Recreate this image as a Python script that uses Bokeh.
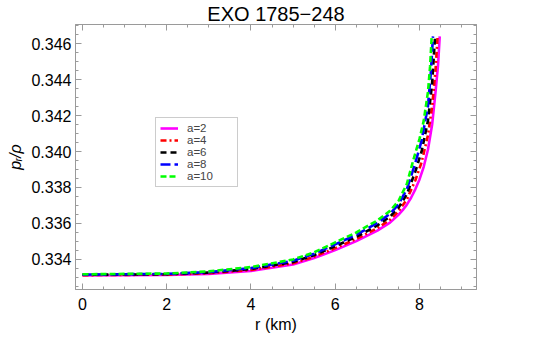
from bokeh.plotting import figure
from bokeh.models import (Range1d, LinearAxis, SingleIntervalTicker, NumeralTickFormatter,
                          CustomJSTickFormatter, Legend, LegendItem, Title)
from bokeh.embed import file_html
from bokeh.resources import INLINE

title_text = "EXO 1785\u2212248"
x_label = "r (km)"
y_label = "p\u1d63/\u03c1"

labels = ["a=2", "a=4", "a=6", "a=8", "a=10"]
colors = ["#FF00FF", "#FF0000", "#000000", "#0000FF", "#00FF00"]
dashes = ["solid", "6 3 2 3", "6 4", "10 4", "6 3"]

r_a2 = [0, 2, 3, 4, 5, 5.5, 6, 6.5, 7, 7.3, 7.5, 7.6, 7.7, 7.8, 7.9, 8.0, 8.1, 8.2, 8.3,
        8.38, 8.44, 8.48]
v_a2 = [0.33311, 0.33314, 0.33320, 0.33336, 0.33372, 0.33408, 0.33452, 0.33502, 0.33560,
        0.33605, 0.33648, 0.33674, 0.33705, 0.33743, 0.33790, 0.33845, 0.33915, 0.34010,
        0.34150, 0.34330, 0.34480, 0.34640]

r_a4 = [0, 2, 3, 4, 5, 5.5, 6, 6.5, 7, 7.3, 7.5, 7.7, 7.9, 8.05, 8.2, 8.3, 8.38, 8.43]
v_a4 = [0.33313, 0.33316, 0.33324, 0.33342, 0.33379, 0.33416, 0.33463, 0.33514, 0.33574,
        0.33621, 0.33667, 0.33734, 0.33839, 0.33940, 0.34090, 0.34250, 0.34450, 0.34640]

r_a6 = [0, 2, 3, 4, 5, 5.5, 6, 6.5, 7, 7.3, 7.5, 7.7, 7.9, 8.05, 8.2, 8.3, 8.37]
v_a6 = [0.33315, 0.33318, 0.33327, 0.33347, 0.33386, 0.33424, 0.33474, 0.33526, 0.33589,
        0.33638, 0.33687, 0.33763, 0.33888, 0.34000, 0.34170, 0.34380, 0.34640]

r_a8 = [0, 2, 3, 4, 5, 5.5, 6, 6.5, 7, 7.3, 7.5, 7.7, 7.9, 8.05, 8.2, 8.27, 8.32]
v_a8 = [0.33316, 0.33320, 0.33330, 0.33352, 0.33393, 0.33432, 0.33484, 0.33538, 0.33603,
        0.33654, 0.33706, 0.33791, 0.33936, 0.34060, 0.34250, 0.34440, 0.34640]

r_a10 = [0, 2, 3, 4, 5, 5.5, 6, 6.5, 7, 7.3, 7.5, 7.7, 7.85, 8.0, 8.1, 8.2, 8.25, 8.29]
v_a10 = [0.33318, 0.33322, 0.33334, 0.33358, 0.33400, 0.33440, 0.33495, 0.33550, 0.33617,
         0.33670, 0.33725, 0.33820, 0.33950, 0.34070, 0.34170, 0.34330, 0.34470, 0.34640]

series_r = [r_a2, r_a4, r_a6, r_a8, r_a10]
series_v = [v_a2, v_a4, v_a6, v_a8, v_a10]

FONT = "Liberation Sans"
FRAME = "#9a9a9a"

p = figure(frame_width=401, frame_height=265, title=None,
           x_range=Range1d(-0.166, 9.353), y_range=Range1d(0.332333, 0.347056),
           output_backend="svg", toolbar_location=None,
           x_axis_type=None, y_axis_type=None,
           min_border_left=75, min_border_right=80, min_border_top=24, min_border_bottom=57)
p.xgrid.visible = False
p.ygrid.visible = False
p.outline_line_color = FRAME
p.background_fill_color = "white"
p.border_fill_color = "white"


def make_axis(kind, show):
    if kind == "x":
        ticker = SingleIntervalTicker(interval=2, num_minor_ticks=4)
    else:
        ticker = SingleIntervalTicker(interval=0.002, num_minor_ticks=4)
    ax = LinearAxis(ticker=ticker)
    if show:
        if kind == "y":
            ax.formatter = NumeralTickFormatter(format="0.000")
        ax.major_label_text_font_size = "16px"
    else:
        ax.formatter = CustomJSTickFormatter(code="return ''")
        ax.major_label_standoff = 0
    ax.axis_line_color = FRAME
    ax.major_tick_line_color = FRAME
    ax.minor_tick_line_color = FRAME
    ax.major_tick_in = 6
    ax.major_tick_out = 0
    ax.minor_tick_in = 3
    ax.minor_tick_out = 0
    ax.major_label_text_font = FONT
    ax.major_label_text_color = "black"
    ax.axis_label_text_font = FONT
    ax.axis_label_text_font_style = "normal"
    ax.axis_label_text_color = "black"
    ax.axis_label_text_font_size = "16px"
    return ax


xb = make_axis("x", True)
xb.axis_label = x_label
xb.major_label_standoff = 8
xb.axis_label_standoff = 3
p.add_layout(xb, "below")

yl = make_axis("y", True)
yl.axis_label = y_label
yl.axis_label_text_font_style = "italic"
yl.major_label_standoff = 4
yl.axis_label_standoff = 4
p.add_layout(yl, "left")

p.add_layout(make_axis("x", False), "above")
p.add_layout(make_axis("y", False), "right")

p.add_layout(Title(text=title_text, align="center", text_font=FONT, text_font_size="20px",
                   text_font_style="normal", text_color="black", standoff=0), "above")

items = []
for r, v, lab, col, dash in zip(series_r, series_v, labels, colors, dashes):
    rr = p.line(r, v, line_color=col, line_width=2.6, line_dash=dash)
    items.append(LegendItem(label=lab, renderers=[rr]))

legend = Legend(items=items, location=(80, 102),
                border_line_color=FRAME, background_fill_color="white", background_fill_alpha=1,
                label_text_font=FONT, label_text_font_size="11.5px",
                glyph_width=18, glyph_height=10, label_height=10, label_width=46, spacing=0,
                padding=4, margin=0, label_standoff=9)
p.add_layout(legend)

open("out.html", "w").write(file_html(p, INLINE))
